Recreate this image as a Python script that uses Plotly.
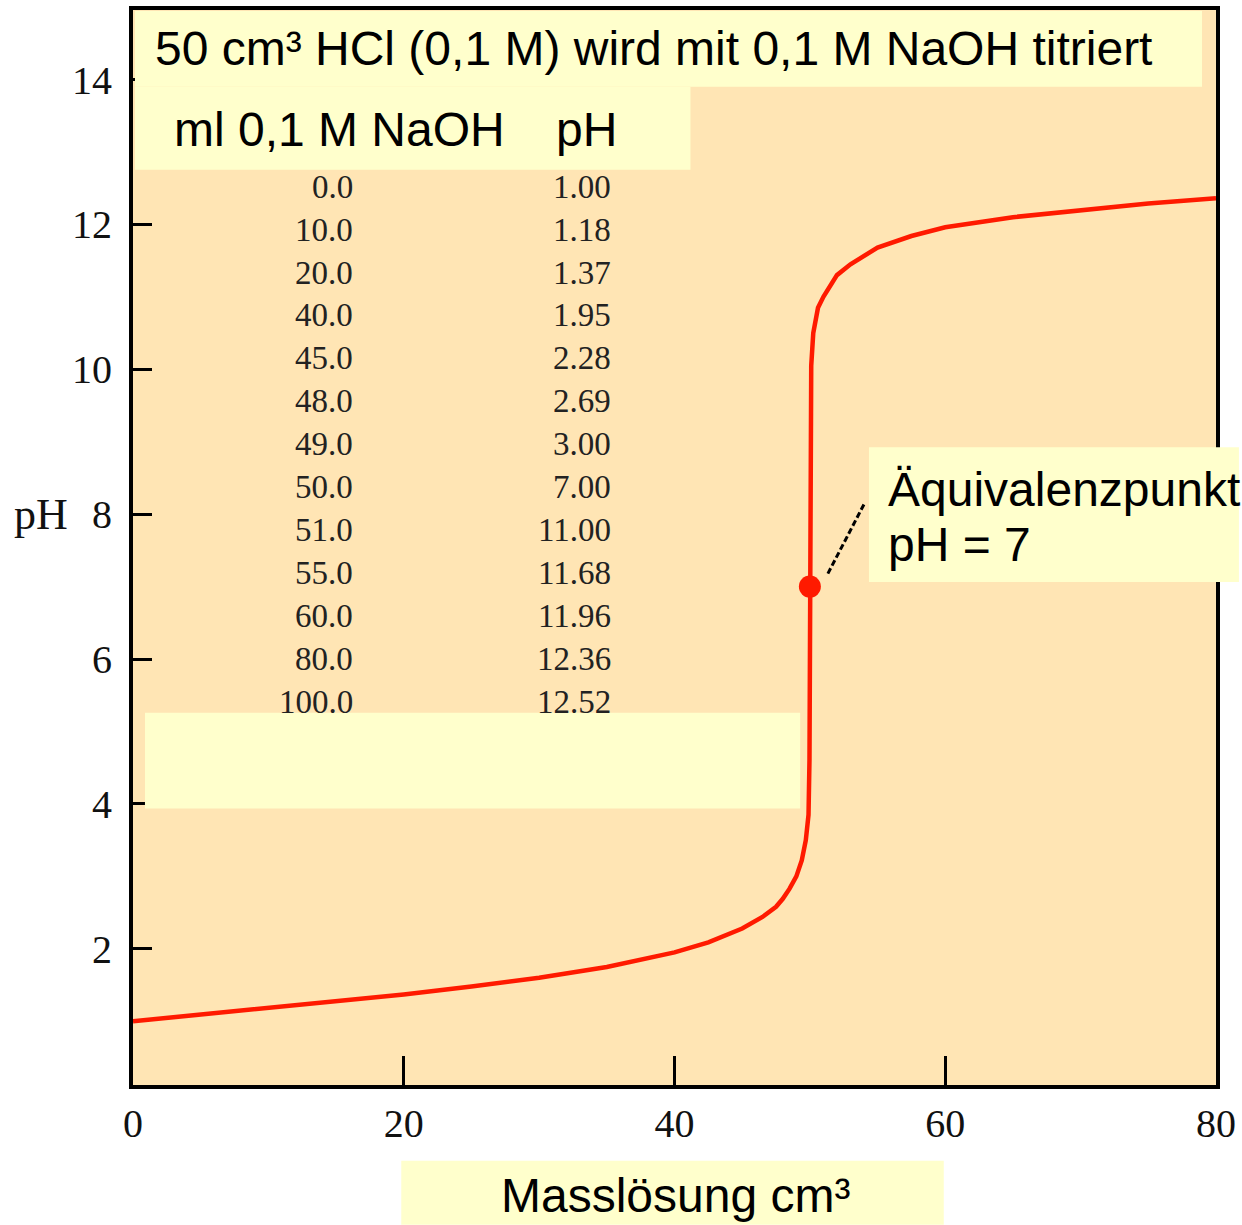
import plotly.graph_objects as go

# Titration table: volume of 0.1 M NaOH (ml) and resulting pH
table_volume = [0.0, 10.0, 20.0, 40.0, 45.0, 48.0, 49.0, 50.0, 51.0, 55.0, 60.0, 80.0, 100.0]
table_ph = [1.00, 1.18, 1.37, 1.95, 2.28, 2.69, 3.00, 7.00, 11.00, 11.68, 11.96, 12.36, 12.52]

# Titration curve (volume in cm³, pH)
curve_volume = [0, 5, 10, 15, 20, 25, 30, 35, 40, 42.5, 45, 46.5, 47.5, 48, 48.5, 49,
                49.4, 49.7, 49.9, 49.97, 50, 50.03, 50.1, 50.25, 50.6, 51, 52, 53, 55,
                57.5, 60, 65, 70, 75, 80]
curve_ph = [1.00, 1.09, 1.18, 1.27, 1.37, 1.48, 1.60, 1.75, 1.95, 2.09, 2.28, 2.44, 2.58,
            2.69, 2.83, 3.00, 3.22, 3.50, 3.85, 4.6, 7.00, 9.5, 10.05, 10.50, 10.85,
            11.00, 11.30, 11.45, 11.68, 11.84, 11.96, 12.10, 12.20, 12.29, 12.36]

# Equivalence point
eq_volume = 50
eq_ph = 7

x_ticks = [0, 20, 40, 60, 80]
y_ticks = [2, 4, 6, 8, 10, 12, 14]

W, H = 1242, 1225
PL, PR, PT, PB = 133, 1219, 8, 1085   # plot area in page pixels

SANS = "Liberation Sans, Arial, sans-serif"
SERIF = "Liberation Serif, Times New Roman, serif"
BOX = "#FFFFCC"
PLOT_BG = "#FFE5B4"
RED = "#FF1A00"


def px(x):
    return (x - PL) / (PR - PL)


def py(y):
    return (PB - y) / (PB - PT)


fig = go.Figure()

fig.add_trace(go.Scatter(
    x=curve_volume, y=curve_ph, mode="lines",
    line=dict(color=RED, width=4.5), hoverinfo="skip", showlegend=False,
))
fig.add_trace(go.Scatter(
    x=[eq_volume], y=[eq_ph], mode="markers",
    marker=dict(color=RED, size=22, symbol="circle"), showlegend=False,
))

# Light-yellow label boxes
boxes = [
    (135, 9, 1205, 85),
    (135, 85, 692, 168),
    (145, 712, 802, 808),
    (871, 446, 1242, 581),
    (402, 1161, 946, 1225),
]
shapes = []
for x0, y0, x1, y1 in boxes:
    shapes.append(dict(type="rect", xref="paper", yref="paper",
                       x0=px(x0), x1=px(x1), y0=py(y1), y1=py(y0),
                       fillcolor=BOX, line=dict(width=0), layer="above"))

# Leader line from the equivalence point to its label
shapes.append(dict(type="line", xref="x", yref="y",
                   xsizemode="pixel", ysizemode="pixel",
                   xanchor=eq_volume, yanchor=eq_ph,
                   x0=18, y0=13, x1=55, y1=84,
                   line=dict(color="black", width=3, dash="6px,3px"),
                   layer="above"))

annotations = []


def text(s, x, y, size, family=SANS, xanchor="left", color="black"):
    annotations.append(dict(text=s, xref="paper", yref="paper",
                            x=px(x), y=py(y), xanchor=xanchor, yanchor="middle",
                            showarrow=False, font=dict(family=family, size=size, color=color)))


text("50 cm³ HCl (0,1 M) wird mit 0,1 M NaOH titriert", 153, 47, 48)
text("ml 0,1 M NaOH", 172, 128, 48)
text("pH", 555, 128, 48)
text("Äquivalenzpunkt", 888, 488, 48)
text(f"pH = {eq_ph}", 888, 543, 48)
text("Masslösung cm³", 677, 1196, 48, xanchor="center")

# Table rows
for i, (v, p) in enumerate(zip(table_volume, table_ph)):
    row_y = 185 + 43 * i
    text(f"{v:.1f}", 356, row_y, 33, family=SERIF, xanchor="right", color="#222")
    text(f"{p:.2f}", 614, row_y, 33, family=SERIF, xanchor="right", color="#222")

# Y-axis title placed horizontally next to the "8" tick
annotations.append(dict(text="pH", xref="paper", yref="y", x=px(12), y=8,
                        xanchor="left", yanchor="middle", showarrow=False,
                        font=dict(family=SERIF, size=44, color="#111")))

axis_common = dict(
    showline=True, linewidth=4, linecolor="black", mirror=True,
    ticks="inside", tickwidth=3, tickcolor="black",
    showgrid=False, zeroline=False,
    tickfont=dict(family=SERIF, size=40, color="#111"),
)

fig.update_layout(
    width=W, height=H,
    margin=dict(l=PL, r=W - PR - 3, t=PT - 2, b=H - PB, pad=0),
    paper_bgcolor="white", plot_bgcolor=PLOT_BG,
    xaxis=dict(range=[0, 80], tickvals=x_ticks, ticklen=29,
               ticklabelstandoff=0, **axis_common),
    yaxis=dict(range=[0.12, 14.96], tickvals=y_ticks, ticklen=19,
               ticklabelstandoff=9, **axis_common),
    shapes=shapes, annotations=annotations, showlegend=False,
)

fig.write_html("out.html")
